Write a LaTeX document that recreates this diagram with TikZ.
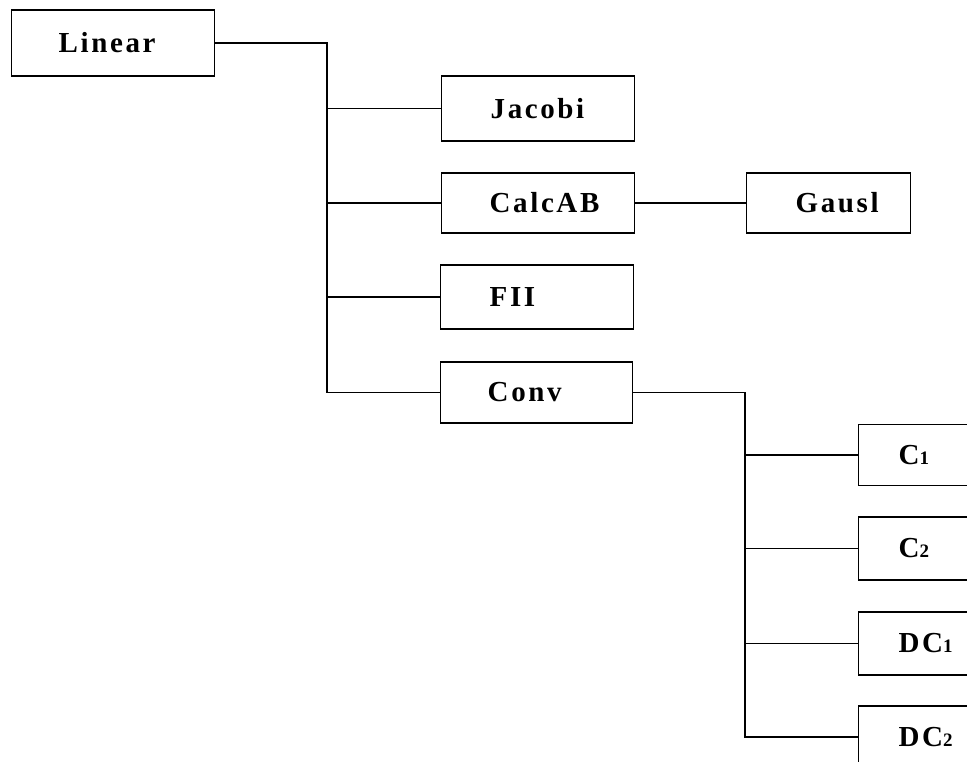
\documentclass[tikz,border=0pt]{standalone}
\usepackage{fontspec}
\usepackage{tikz}
\usetikzlibrary{positioning,calc}
\newfontfamily\boxfont[LetterSpace=9]{Liberation Serif}
\newcommand{\lowdig}[1]{{\fontsize{19}{19}\selectfont #1}}
\tikzset{
  modbox/.style n args={3}{draw, line width=1.4pt, anchor=west, inner xsep=0pt, inner ysep=0pt,
    align=left, text width=#1, minimum height=#2, execute at begin node={\hspace*{#3}},
    font=\boxfont\bfseries\fontsize{29}{31}\selectfont},
  link/.style={line width=1.4pt}
}

\begin{document}
\begin{tikzpicture}[x=1pt,y=-1pt]
  \clip (0,0) rectangle (967,762);
  % first level
  \node[modbox={203pt}{66pt}{47pt}] (lin) at (11,43) {Linear};
  \node[modbox={193pt}{65pt}{49pt}] (jac) at (441,108.5) {Jacobi};
  \node[modbox={193pt}{60pt}{48pt}] (cab) at (441,203) {CalcAB};
  \node[modbox={164pt}{60pt}{49pt}] (gau) at (746,203) {Gausl};
  \node[modbox={193pt}{64pt}{49pt}] (fii) at (440,297) {FII};
  \node[modbox={192pt}{61pt}{47pt}] (conv) at (440,392.5) {Conv};
  % second level
  \node[modbox={170pt}{61pt}{40pt}] (c1) at (858,455) {C\lowdig{1}};
  \node[modbox={170pt}{63pt}{40pt}] (c2) at (858,548.5) {C\lowdig{2}};
  \node[modbox={170pt}{63pt}{40pt}] (dc1) at (858,643.5) {DC\lowdig{1}};
  \node[modbox={170pt}{62pt}{40pt}] (dc2) at (858,737) {DC\lowdig{2}};
  % connectors
  \coordinate (busA) at (327,43);
  \coordinate (busB) at (745,392.5);
  \draw[link] (lin.east) -- (busA) |- (conv.west);
  \foreach \n in {jac,cab,fii} \draw[link] (\n.west) -- (\n.west -| busA);
  \draw[link] (cab.east) -- (gau.west);
  \draw[link] (conv.east) -- (busB) |- (dc2.west);
  \foreach \n in {c1,c2,dc1} \draw[link] (\n.west) -- (\n.west -| busB);
\end{tikzpicture}
\end{document}
